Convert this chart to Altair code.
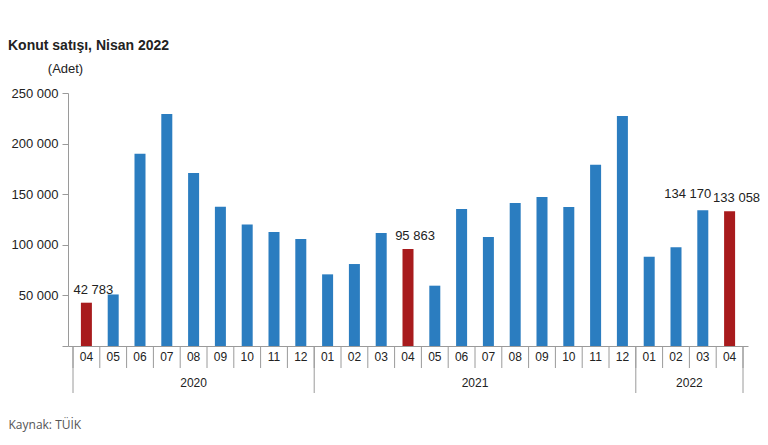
import altair as alt
import pandas as pd

years = ["2020"] * 9 + ["2021"] * 12 + ["2022"] * 4
months = ["04", "05", "06", "07", "08", "09", "10", "11", "12",
          "01", "02", "03", "04", "05", "06", "07", "08", "09", "10", "11", "12",
          "01", "02", "03", "04"]
values = [42783, 50936, 190012, 229357, 170990, 137500, 120000, 112700, 105700,
          70800, 81000, 111700, 95863, 59600, 135400, 107700, 141300, 147200, 137400, 179200, 227300,
          88300, 97500, 134170, 133058]
labelled = ["2020-04", "2021-04", "2022-03", "2022-04"]

year_names = ["2020", "2021", "2022"]
year_start = [0, 9, 21]
year_end = [9, 21, 25]

df = pd.DataFrame({"year": years, "month": months, "value": values})
df["idx"] = range(len(df))
df["key"] = df["year"] + "-" + df["month"]
df["hl"] = df["month"].eq("04").map({True: "red", False: "blue"})
df["label"] = [f"{v:,}".replace(",", " ") if k in labelled else "" for v, k in zip(values, df["key"])]

ydf = pd.DataFrame({"yname": year_names, "start": year_start, "end": year_end})
bounds = pd.DataFrame({"b": list(range(0, 26))})
ybounds = pd.DataFrame({"b": year_start + [year_end[-1]]})

W, H = 680, 253
FONT = "Liberation Sans"
TXT = "#222222"
GRID = "#9a9a9a"

xscale = alt.Scale(domain=[0, 25], nice=False, zero=False)
yscale = alt.Scale(domain=[0, 250000], nice=False)

base = alt.Chart(df).transform_calculate(pos="datum.idx + 0.5")

bars = base.mark_bar(size=11).encode(
    x=alt.X("pos:Q", scale=xscale,
            axis=alt.Axis(labels=False, ticks=False, grid=False, domainColor=GRID,
                          title="Kaynak: TÜİK", titleFont="Open Sans", titleFontSize=12,
                          titleFontWeight="normal", titleColor="#555555",
                          titleAnchor="start", titleAlign="left", titleX=-60, titleY=78,
                          titleBaseline="middle")),
    y=alt.Y("value:Q", scale=yscale,
            axis=alt.Axis(values=[0, 50000, 100000, 150000, 200000, 250000], grid=False,
                          labelExpr="datum.value == 0 ? '' : replace(format(datum.value, ','), ',', ' ')",
                          labelFont=FONT, labelFontSize=13, labelColor=TXT, labelPadding=4,
                          domainColor=GRID, tickColor=GRID, tickSize=6,
                          title="(Adet)", titleAngle=0, titleFont=FONT, titleFontSize=13,
                          titleFontWeight="normal", titleColor=TXT, titleX=-3, titleY=-25,
                          titleAlign="center", titleBaseline="middle")),
    color=alt.Color("hl:N", scale=alt.Scale(domain=["blue", "red"], range=["#2b7dc0", "#a81b1d"]),
                    legend=None),
)

lbl_main = base.transform_filter("datum.label != '' && datum.key != '2022-03'").mark_text(
    font=FONT, fontSize=13, color=TXT, dx=7, dy=-13, baseline="middle"
).encode(x=alt.X("pos:Q", scale=xscale), y=alt.Y("value:Q", scale=yscale), text="label:N")

lbl_left = base.transform_filter("datum.key == '2022-03'").mark_text(
    font=FONT, fontSize=13, color=TXT, dx=-15, dy=-16, baseline="middle"
).encode(x=alt.X("pos:Q", scale=xscale), y=alt.Y("value:Q", scale=yscale), text="label:N")

month_txt = base.mark_text(font=FONT, fontSize=12, color=TXT, baseline="middle").encode(
    x=alt.X("pos:Q", scale=xscale), y=alt.value(H + 11), text="month:N")

month_sep = alt.Chart(bounds).mark_rule(color=GRID, strokeWidth=1).encode(
    x=alt.X("b:Q", scale=xscale), y=alt.value(H), y2=alt.value(H + 22))

year_sep = alt.Chart(ybounds).mark_rule(color=GRID, strokeWidth=1).encode(
    x=alt.X("b:Q", scale=xscale), y=alt.value(H), y2=alt.value(H + 47))

year_txt = alt.Chart(ydf).transform_calculate(mid="(datum.start + datum.end) / 2").mark_text(
    font=FONT, fontSize=12, color=TXT, baseline="middle").encode(
    x=alt.X("mid:Q", scale=xscale), y=alt.value(H + 37), text="yname:N")

chart = alt.layer(bars, lbl_main, lbl_left, month_txt, month_sep, year_sep, year_txt).properties(
    width=W, height=H,
    background="white",
    autosize=alt.AutoSizeParams(type="none"),
    padding={"left": 60, "top": 85, "right": 12, "bottom": 90},
    title=alt.TitleParams("Konut satışı, Nisan 2022", anchor="start", frame="group",
                          font=FONT, fontSize=14, fontWeight="bold", color=TXT,
                          dx=-60, offset=9),
).configure_view(stroke=None)

chart.save("out.html", embed_options={"renderer": "svg", "actions": False})
